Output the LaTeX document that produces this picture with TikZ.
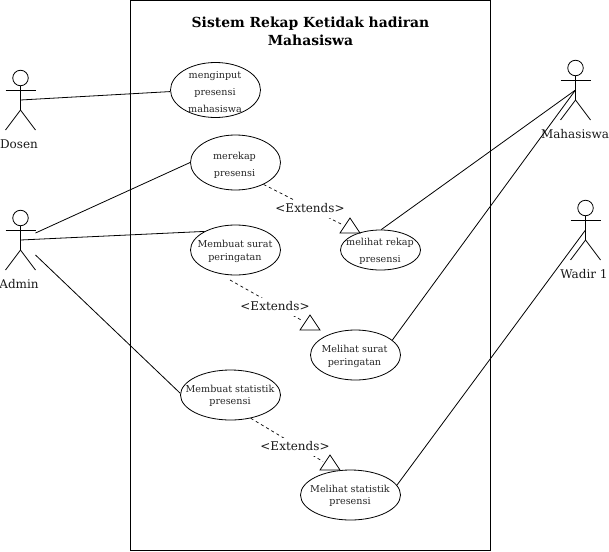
\documentclass[tikz,border=0pt]{standalone}
\usepackage{fontspec}
\setmainfont{DejaVu Serif}
\usetikzlibrary{shapes.geometric}
\tikzset{
  usecase/.style={ellipse,draw,inner sep=0pt,line width=.8pt},
  uctext/.style={inner sep=0pt,align=center,text=black!85},
  actorname/.style={font=\fontsize{12}{14}\selectfont,inner sep=0pt,text=black!90},
  assoc/.style={line width=.8pt},
  ext/.style={line width=.7pt,dash pattern=on 3pt off 3pt},
  extlabel/.style={font=\fontsize{12}{14}\selectfont,fill=white,inner xsep=1pt,inner ysep=0pt,minimum height=18pt,text=black!90},
  openarrow/.style={line width=.8pt,fill=white,line join=miter},
  titletext/.style={font=\bfseries\fontsize{13.9}{18}\selectfont,align=center,inner sep=0pt}
}
% name, x, y of head centre, label, label x
\newcommand{\umlactor}[5]{%
  \node[circle,draw,line width=.8pt,minimum size=15.5pt,inner sep=0pt] (#1-head) at (#2,#3) {};
  \coordinate (#1-armL) at (#2-15,#3+12);
  \coordinate (#1-armR) at (#2+15,#3+12);
  \coordinate (#1-hip) at (#2,#3+32);
  \coordinate (#1-legL) at (#2-15,#3+52);
  \coordinate (#1-legR) at (#2+15,#3+52);
  \coordinate (#1-mid) at (#2,#3+22);
  \coordinate (#1-up) at (#2+15,#3+15);
  \coordinate (#1-low) at (#2+15,#3+37);
  \draw[line width=.8pt] (#1-head.south) -- (#1-hip) -- (#1-legL);
  \draw[line width=.8pt] (#1-hip) -- (#1-legR);
  \draw[line width=.8pt] (#1-armL) -- (#1-armR);
  \node[actorname] (#1-name) at (#5,#3+66.5) {#4};
}
\begin{document}
\begin{tikzpicture}[x=1pt,y=-1pt]
\useasboundingbox (0,0) rectangle (609,551);
\node[draw,line width=.8pt,minimum width=360pt,minimum height=550pt,inner sep=0pt,anchor=north west] (system) at (130,0) {};
\node[titletext] (title) at (310.5,31) {Sistem Rekap Ketidak hadiran\\Mahasiswa};

\umlactor{dosen}{20.5}{78}{Dosen}{19}
\umlactor{admin}{20.5}{218}{Admin}{19}
\umlactor{mhs}{575.5}{68}{Mahasiswa}{575}
\umlactor{wadir}{585.5}{208}{Wadir 1}{584}

\node[usecase,minimum width=90pt,minimum height=55pt] (input) at (215.5,90) {};
\node[usecase,minimum width=90pt,minimum height=55pt] (rekap) at (235.5,162.5) {};
\node[usecase,minimum width=90pt,minimum height=50pt] (surat) at (235.5,250) {};
\node[usecase,minimum width=80pt,minimum height=40pt] (lrekap) at (380.5,250) {};
\node[usecase,minimum width=90pt,minimum height=50pt] (lsurat) at (355.5,355) {};
\node[usecase,minimum width=100pt,minimum height=50pt] (stat) at (230.5,395) {};
\node[usecase,minimum width=100pt,minimum height=50pt] (lstat) at (350.5,495) {};

\node[uctext,font=\fontsize{9.6}{17}\selectfont] (inputT) at (215,92.5) {menginput\\presensi\\mahasiswa};
\node[uctext,font=\fontsize{9.6}{17}\selectfont] (rekapT) at (234.5,165) {merekap\\presensi};
\node[uctext,font=\fontsize{9.6}{12.5}\selectfont] (suratT) at (235,251.5) {Membuat surat\\peringatan};
\node[uctext,font=\fontsize{9.6}{16.5}\selectfont] (lrekapT) at (380,251.5) {melihat rekap\\presensi};
\node[uctext,font=\fontsize{9.6}{12.5}\selectfont] (lsuratT) at (354.5,356.5) {Melihat surat\\peringatan};
\node[uctext,font=\fontsize{9.6}{12.5}\selectfont] (statT) at (230,396) {Membuat statistik\\presensi};
\node[uctext,font=\fontsize{9.6}{12.5}\selectfont] (lstatT) at (350,496) {Melihat statistik\\presensi};

\draw[assoc] (dosen-mid) -- (input.182.5);
\draw[assoc] (admin-up) -- (rekap.west);
\draw[assoc] (admin-mid) -- (surat.149);
\draw[assoc] (admin-low) -- (stat.178);
\draw[assoc] (mhs-mid) -- (lrekap.88);
\draw[assoc] (mhs-mid) -- (lsurat.22);
\draw[assoc] (wadir-mid) -- (lstat.12);

\coordinate (tipA) at (343,225);
\coordinate (tipB) at (302,320.5);
\coordinate (tipC) at (323,461.5);
\coordinate (startB) at (230,280);
\draw[ext] (rekap.-38) -- (tipA);
\draw[ext] (startB) -- (tipB);
\draw[ext] (stat.-49) -- (tipC);
\node[extlabel] (extA) at (310,208.5) {<Extends>};
\node[extlabel] (extB) at (275,306.5) {<Extends>};
\node[extlabel] (extC) at (295,446.5) {<Extends>};
\draw[openarrow] (350,218) -- (360,233) -- (340,233) -- cycle;
\draw[openarrow] (310,315) -- (320,330) -- (300,330) -- cycle;
\draw[openarrow] (330,455) -- (340,470) -- (320,470) -- cycle;
\end{tikzpicture}
\end{document}
